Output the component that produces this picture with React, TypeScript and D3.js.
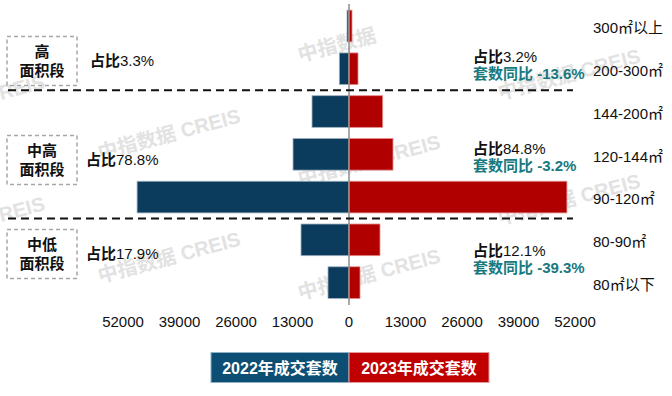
import React, { useRef, useEffect } from 'react';
import * as d3 from 'd3';

// 面积段分类（自上而下）
const categories = ['300㎡以上', '200-300㎡', '144-200㎡', '120-144㎡', '90-120㎡', '80-90㎡', '80㎡以下'];
// 成交套数
const sales2022 = [460, 2230, 8510, 12880, 48760, 11040, 4830];
const sales2023 = [690, 2070, 7750, 10120, 50140, 7130, 2530];
const ticks = [0, 13000, 26000, 39000, 52000];
const seriesNames = ['2022年成交套数', '2023年成交套数'];

// 面积段分组
const segmentTitles = [['高', '面积段'], ['中高', '面积段'], ['中低', '面积段']];
const segmentLastIndex = [1, 4, 6];
const share2022 = ['3.3%', '78.8%', '17.9%'];
const share2023 = ['3.2%', '84.8%', '12.1%'];
const yoy = ['-13.6%', '-3.2%', '-39.3%'];

const W = 672;
const H = 396;
const BLUE = '#0b3c5d';
const RED = '#b00000';
const TEAL = '#18797f';
const FONT = '"Liberation Sans", Arial, "Noto Sans CJK SC", sans-serif';

// 水印位置与文字
const watermarks: [number, number, string][] = [
  [100, 160, '中指数据 CREIS'],
  [100, 283, '中指数据 CREIS'],
  [1, 100, 'REIS'],
  [1, 222, 'REIS'],
  [300, 62, '中指数据'],
  [300, 186, '中指数据 CREIS'],
  [300, 300, '中指数据 CREIS'],
  [500, 100, '中指数据 CREIS'],
  [500, 225, '中指数据 CREIS']
];

function drawChart(divEle: HTMLDivElement) {
  d3.select(divEle).select('svg').remove();
  const svg = d3
    .select(divEle)
    .append('svg')
    .attr('width', W)
    .attr('height', H)
    .style('font-family', FONT);
  svg.append('rect').attr('width', W).attr('height', H).attr('fill', 'white');

  const y = d3
    .scaleBand<string>()
    .domain(categories)
    .range([4.6, 304])
    .paddingInner(0.26)
    .paddingOuter(0.13);
  const xLeft = d3.scaleLinear().domain([0, 52000]).range([349, 123]);
  const xRight = d3.scaleLinear().domain([0, 52000]).range([349, 575]);

  // 水印
  const wm = svg.append('g');
  for (const [wx, wy, label] of watermarks) {
    wm.append('text')
      .attr('transform', `translate(${wx},${wy}) rotate(-15)`)
      .attr('fill', '#e2e2e2')
      .attr('font-size', 20)
      .attr('font-weight', 'bold')
      .text(label);
  }

  // 2022 柱子
  svg
    .selectAll()
    .data(categories)
    .enter()
    .append('rect')
    .attr('x', (d, i) => xLeft(sales2022[i]))
    .attr('y', (d) => y(d) as number)
    .attr('width', (d, i) => xLeft(0) - xLeft(sales2022[i]))
    .attr('height', y.bandwidth())
    .attr('fill', BLUE)
    .attr('stroke', '#9db0bf')
    .attr('stroke-width', 0.8);
  // 2023 柱子
  svg
    .selectAll()
    .data(categories)
    .enter()
    .append('rect')
    .attr('x', xRight(0))
    .attr('y', (d) => y(d) as number)
    .attr('width', (d, i) => xRight(sales2023[i]) - xRight(0))
    .attr('height', y.bandwidth())
    .attr('fill', RED)
    .attr('stroke', '#e58a8a')
    .attr('stroke-width', 0.8);

  // 零轴
  svg
    .append('line')
    .attr('x1', xLeft(0))
    .attr('x2', xLeft(0))
    .attr('y1', 4)
    .attr('y2', 305)
    .attr('stroke', '#8c8c8c')
    .attr('stroke-width', 1.5);

  // 分类标签
  svg
    .selectAll()
    .data(categories)
    .enter()
    .append('text')
    .attr('x', 593)
    .attr('y', (d) => (y(d) as number) + y.bandwidth() / 2 + 2)
    .attr('dy', '0.35em')
    .attr('font-size', 15)
    .attr('fill', '#111')
    .text((d) => d);

  // 刻度
  const tickG = svg.append('g').attr('font-size', 15).attr('fill', '#111').attr('text-anchor', 'middle');
  for (const t of ticks) {
    tickG.append('text').attr('x', xRight(t)).attr('y', 322).attr('dy', '0.35em').text(t);
    if (t > 0) {
      tickG.append('text').attr('x', xLeft(t)).attr('y', 322).attr('dy', '0.35em').text(t);
    }
  }

  // 分隔虚线
  const step = y.step();
  const gap = step - y.bandwidth();
  for (const idx of segmentLastIndex.slice(0, 2)) {
    const ly = (y(categories[idx]) as number) + y.bandwidth() + gap / 2;
    svg
      .append('line')
      .attr('x1', 8)
      .attr('x2', 573)
      .attr('y1', ly)
      .attr('y2', ly)
      .attr('stroke', '#111')
      .attr('stroke-width', 2)
      .attr('stroke-dasharray', '8,5');
  }

  // 面积段标注
  const boxY = [61, 160, 254];
  const rightY = [65, 157, 259];
  segmentTitles.forEach((title, i) => {
    const cy = boxY[i];
    svg
      .append('rect')
      .attr('x', 7)
      .attr('y', cy - 24.5)
      .attr('width', 70)
      .attr('height', 49)
      .attr('fill', 'none')
      .attr('stroke', '#a6a6a6')
      .attr('stroke-width', 1.5)
      .attr('stroke-dasharray', '4,3');
    svg
      .append('text')
      .attr('x', 42)
      .attr('y', cy - 9.5)
      .attr('dy', '0.35em')
      .attr('text-anchor', 'middle')
      .attr('font-size', 15)
      .attr('font-weight', 'bold')
      .attr('fill', '#111')
      .text(title[0]);
    svg
      .append('text')
      .attr('x', 42)
      .attr('y', cy + 10)
      .attr('dy', '0.35em')
      .attr('text-anchor', 'middle')
      .attr('font-size', 15)
      .attr('font-weight', 'bold')
      .attr('fill', '#111')
      .text(title[1]);

    // 左侧占比
    const lt = svg
      .append('text')
      .attr('x', i === 0 ? 90 : 86)
      .attr('y', cy)
      .attr('dy', '0.35em')
      .attr('font-size', 15)
      .attr('fill', '#111');
    lt.append('tspan').attr('font-weight', 'bold').text('占比');
    lt.append('tspan').text(share2022[i]);

    // 右侧占比与同比
    const ry = rightY[i];
    const rt = svg
      .append('text')
      .attr('x', 473)
      .attr('y', ry - 8.5)
      .attr('dy', '0.35em')
      .attr('font-size', 15)
      .attr('fill', '#111');
    rt.append('tspan').attr('font-weight', 'bold').text('占比');
    rt.append('tspan').text(share2023[i]);
    svg
      .append('text')
      .attr('x', 473)
      .attr('y', ry + 8.5)
      .attr('dy', '0.35em')
      .attr('font-size', 15)
      .attr('font-weight', 'bold')
      .attr('fill', TEAL)
      .text(`套数同比 ${yoy[i]}`);
  });

  // 图例
  const legendColors = ['#0d4f74', '#c00000'];
  const legendX = [211, 349, 489];
  seriesNames.forEach((name, i) => {
    svg
      .append('rect')
      .attr('x', legendX[i])
      .attr('y', 352.5)
      .attr('width', legendX[i + 1] - legendX[i])
      .attr('height', 30)
      .attr('fill', legendColors[i])
      .attr('stroke', i === 0 ? '#8fb0c4' : '#e49a9a')
      .attr('stroke-width', 1);
    svg
      .append('text')
      .attr('x', (legendX[i] + legendX[i + 1]) / 2)
      .attr('y', 368)
      .attr('dy', '0.35em')
      .attr('text-anchor', 'middle')
      .attr('font-size', 16)
      .attr('font-weight', 'bold')
      .attr('fill', 'white')
      .text(name);
  });
}

export default function App(): JSX.Element {
  const divRef = useRef<HTMLDivElement>(null);

  useEffect(() => {
    const divEle = divRef.current;
    if (divEle == null) {
      return;
    }
    drawChart(divEle);
  }, []);

  return <div style={{ position: 'fixed', left: 0, top: 0, width: W, height: H }} ref={divRef} />;
}
